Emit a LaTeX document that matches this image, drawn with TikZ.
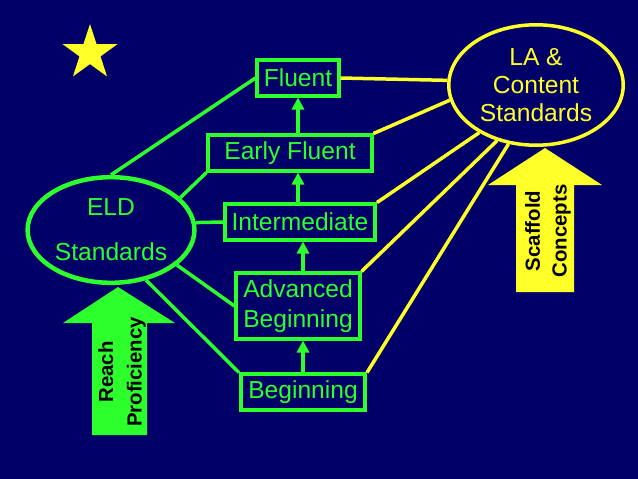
\documentclass[tikz,border=0pt]{standalone}
\usepackage{fontspec}
\setmainfont{Liberation Sans}
\usetikzlibrary{shapes.geometric,arrows.meta,positioning,calc}
\definecolor{bg}{RGB}{0,0,104}
\definecolor{gr}{RGB}{45,255,45}
\definecolor{ye}{RGB}{255,255,40}
\begin{document}
\begin{tikzpicture}[x=0.025cm, y=-0.025cm,
    stage/.style={rectangle, draw=gr, line width=0.1cm, text=gr, minimum height=0.875cm, inner sep=0pt, align=center, font=\fontsize{17.5}{21.3}\selectfont},
    oval/.style={ellipse, draw=#1, text=#1, inner sep=0pt, align=center},
    linkg/.style={gr, line width=0.0875cm},
    linky/.style={ye, line width=0.0875cm},
    climb/.style={-{Triangle[length=0.3cm, width=0.3cm]}, gr, line width=0.0875cm},
    lift/.style={rotate=90, align=center, text=black, font=\fontsize{14.5}{20.3}\selectfont\bfseries},
]
% === BACKGROUND ===
\fill[bg] (0,0) rectangle (638,479);
\node[star, star points=5, star point ratio=2.618, fill=ye, minimum size=1.45cm, inner sep=0pt] (st) at (90,53) {};

% === PROFICIENCY LEVELS ===
\node[stage, minimum width=2.025cm] (fl) at (298,78) {Fluent};
\node[stage, minimum width=4.075cm] (ef) at (290,153) {Early Fluent};
\node[stage, minimum width=3.75cm] (im) at (300,222) {Intermediate};
\node[stage, minimum width=3.075cm, minimum height=1.625cm] (ab) at (298,306) {Advanced\\Beginning};
\node[stage, minimum width=3.1cm] (bn) at (303,392) {Beginning};

\draw[climb] (bn) -- (bn |- ab.south);
\draw[climb] (ab.north -| bn) -- (bn |- im.south);
\draw[climb] (im.north -| fl) -- (fl |- ef.south);
\draw[climb] (ef.north -| fl) -- (fl);

% === STANDARDS ===
\node[oval=gr, line width=0.1125cm, minimum width=4.17cm, minimum height=2.64cm, font=\fontsize{17.5}{32}\selectfont] (eld) at (111,230) {ELD\\Standards};
\node[oval=ye, line width=0.0875cm, minimum width=4.36cm, minimum height=3.01cm, font=\fontsize{17.5}{19.9}\selectfont] (la) at (536,85) {LA \&\\Content\\Standards};

% ELD links
\draw[linkg] (eld.north) -- (fl.west);
\draw[linkg] (eld.25) -- (ef.south west);
\draw[linkg] (eld.5) -- (im.west);
\draw[linkg] (eld.-28) -- (ab.west);
\draw[linkg] (eld.-55) -- (bn.north west);

% LA links
\draw[linky] (fl.east) -- (la.177);
\draw[linky] (ef.north east) -- (la.190);
\draw[linky] (im.north east) -- (la.220);
\draw[linky] (ab.north east) -- (la.235);
\draw[linky] (bn.north east) -- (la.245);

% === BIG ARROWS ===
\fill[gr] (92,435) -- (147,435) -- (147,323) -- (175,323) -- (118,287) -- (63,323) -- (92,323) -- cycle;
\node[lift] (rp) at (122,372) {Reach\\Proficiency};

\fill[ye] (516,292) -- (574,292) -- (574,185) -- (602,185) -- (545,148) -- (488,185) -- (516,185) -- cycle;
\node[lift, font=\fontsize{14.5}{19}\selectfont\bfseries] (sc) at (548,231) {Scaffold\\Concepts};

\end{tikzpicture}
\end{document}
